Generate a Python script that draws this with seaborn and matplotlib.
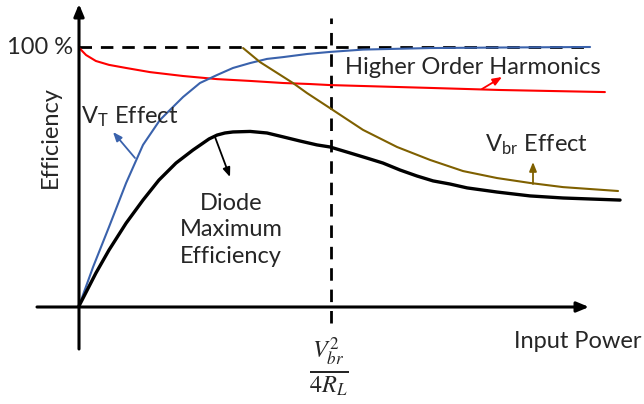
import matplotlib
matplotlib.use("Agg")
import matplotlib.pyplot as plt
import seaborn as sns
import pandas as pd

sns.set_theme(style="white")
plt.rcParams["font.family"] = ["Lato", "DejaVu Sans"]
plt.rcParams["mathtext.fontset"] = "stix"

# Input power (normalised so that Vbr^2/4RL = 1) and efficiency (1 = 100 %)
diode_power = [0, .067, .119, .187, .254, .317, .385, .452, .516, .548, .579, .611,
               .679, .746, .810, .877, .944, .996, 1.075, 1.143, 1.206, 1.274,
               1.341, 1.405, 1.472, 1.540, 1.659, 1.790, 1.921, 2.147]
diode_eff = [0, .127, .216, .320, .409, .486, .552, .602, .645, .660, .668, .672,
             .674, .668, .653, .637, .622, .614, .591, .571, .552, .525,
             .502, .483, .471, .456, .440, .425, .417, .409]

vt_power = [0, .056, .119, .187, .254, .321, .361, .413, .480, .548, .611, .679,
            .746, .810, .905, .996, 1.127, 1.393, 1.671, 2.028]
vt_eff = [0, .151, .305, .475, .622, .718, .757, .807, .861, .892, .919, .938,
          .954, .961, .973, .981, .990, .996, .998, 1.0]

harm_power = [0, .012, .028, .067, .119, .187, .282, .413, .548, .679, .810, .917,
              .996, 1.393, 1.671, 2.087]
harm_eff = [.998, .985, .969, .946, .931, .919, .903, .888, .876, .869, .861, .857,
            .853, .842, .834, .826]

vbr_power = [.651, .718, .849, .905, .996, 1.127, 1.262, 1.393, 1.524, 1.659,
             1.790, 1.921, 2.139]
vbr_eff = [.996, .942, .861, .822, .764, .680, .614, .564, .521, .494, .475, .459,
           .444]

breakdown_power = 1.0
full_eff = 1.0

BLUE = "#3A62AC"
OLIVE = "#7F6000"
RED = "#FF0000"

fig = plt.figure(figsize=(6.44, 4.04), dpi=100)
ax = fig.add_axes([0, 0, 1, 1])
# 252 px per power unit, 259 px per efficiency unit, origin at (79, 306) px
ax.set_xlim(-79 / 252, (644 - 79) / 252)
ax.set_ylim((306 - 404) / 259, 306 / 259)
ax.axis("off")


def P(px, py):
    """Figure pixel position -> data coordinates."""
    return ((px - 79) / 252, (306 - py) / 259)


# reference lines
ax.plot([0, P(590, 0)[0]], [full_eff, full_eff], color="black", lw=2.0,
        dashes=(4.5, 3.2), zorder=1)
ax.plot([breakdown_power, breakdown_power], [P(0, 323)[1], P(0, 18)[1]],
        color="black", lw=2.0, dashes=(4.5, 3.2), zorder=1)

curves = [
    (harm_power, harm_eff, RED, 1.5),
    (vt_power, vt_eff, BLUE, 1.5),
    (vbr_power, vbr_eff, OLIVE, 1.5),
    (diode_power, diode_eff, "black", 2.4),
]
for xs, ys, c, lw in curves:
    df = pd.DataFrame({"power": xs, "eff": ys})
    sns.lineplot(data=df, x="power", y="eff", ax=ax, color=c, lw=lw,
                 sort=False, estimator=None, zorder=3,
                 solid_joinstyle="round", solid_capstyle="round")

# axes with arrow heads
ax.annotate("", xy=P(79, 4), xytext=P(79, 349),
            arrowprops=dict(arrowstyle="-|>,head_length=0.6,head_width=0.25",
                            color="black", lw=2.2, shrinkA=0, shrinkB=0))
ax.annotate("", xy=P(589, 307), xytext=P(37, 307),
            arrowprops=dict(arrowstyle="-|>,head_length=0.6,head_width=0.25",
                            color="black", lw=2.2, shrinkA=0, shrinkB=0))


def pointer(start, end, color):
    ax.annotate("", xy=P(*end), xytext=P(*start),
                arrowprops=dict(arrowstyle="-|>,head_length=0.45,head_width=0.18",
                                color=color, lw=1.3, shrinkA=0, shrinkB=0))


pointer((135, 158), (113, 132), BLUE)
pointer((215, 137), (230, 177), "black")
pointer((482, 89), (502, 77), RED)
pointer((533, 184), (533, 162), OLIVE)

fs = 17
ax.text(*P(73, 47), "100 %", ha="right", va="center", fontsize=fs)
ax.text(*P(50, 137), "Efficiency", ha="center", va="center", rotation=90, fontsize=fs)
ax.text(*P(81, 117), r"V$_{\mathregular{T}}$ Effect", ha="left", va="center", fontsize=fs)
ax.text(*P(345, 68), "Higher Order Harmonics", ha="left", va="center", fontsize=fs)
ax.text(*P(485, 145), r"V$_{\mathregular{br}}$ Effect", ha="left", va="center", fontsize=fs)
ax.text(*P(231, 230), "Diode\nMaximum\nEfficiency", ha="center", va="center",
        fontsize=fs, linespacing=1.35)
ax.text(*P(578, 341), "Input Power", ha="center", va="center", fontsize=fs)
ax.text(*P(329, 367), r"$\frac{V_{br}^{2}}{4R_L}$", ha="center", va="center",
        fontsize=25)

fig.savefig("out.png", dpi=100)
